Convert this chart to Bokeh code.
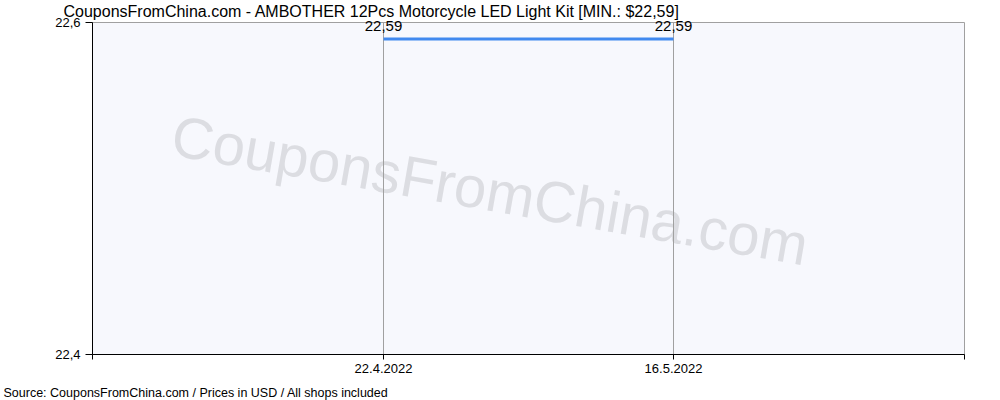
import pandas as pd
from bokeh.plotting import figure
from bokeh.models import Label, FixedTicker, ColumnDataSource, Range1d, Title, DatetimeAxis
from bokeh.embed import file_html
from bokeh.resources import INLINE

# ---- data ----
dates = ["2022-04-22", "2022-05-16"]
prices = [22.59, 22.59]
price_labels = ["22,59", "22,59"]
y_ticks = [22.4, 22.6]
y_tick_labels = ["22,4", "22,6"]
x_tick_dates = ["2022-04-22", "2022-05-16"]
x_tick_labels = ["22.4.2022", "16.5.2022"]
x_window = ["2022-03-28 22:00", "2022-06-09 02:00"]
title_text = "CouponsFromChina.com - AMBOTHER 12Pcs Motorcycle LED Light Kit [MIN.: $22,59]"
footer_text = "Source: CouponsFromChina.com / Prices in USD / All shops included"
watermark_text = "CouponsFromChina.com"


def ms(s):
    return pd.Timestamp(s).value / 1e6


FONT = "Liberation Sans"

x0, x1 = ms(x_window[0]), ms(x_window[1])

p = figure(
    width=1000, height=400,
    x_axis_type="datetime",
    x_range=Range1d(x0, x1), y_range=Range1d(y_ticks[0], y_ticks[1]),
    output_backend="svg", toolbar_location=None, title=None,
    min_border_left=92, min_border_right=36, min_border_top=22, min_border_bottom=46,
)
p.background_fill_color = "#f7f8fd"
p.border_fill_color = "white"
p.outline_line_color = "#a0a0a0"

# x axis
xt = [x0] + [ms(d) for d in x_tick_dates] + [x1]
p.xaxis.ticker = FixedTicker(ticks=xt)
ov = {x0: "", x1: ""}
for d, l in zip(x_tick_dates, x_tick_labels):
    ov[ms(d)] = l
p.xaxis.major_label_overrides = ov
p.xaxis.major_tick_out = 5
p.xaxis.major_tick_in = 0
p.xaxis.minor_tick_out = 0
p.xaxis.minor_tick_in = 0
p.xaxis.major_label_standoff = 4
p.xaxis.axis_line_color = "black"
p.xaxis.major_tick_line_color = "black"
p.xaxis.major_label_text_font = FONT
p.xaxis.major_label_text_font_size = "13px"
p.xaxis.major_label_text_color = "black"

# y axis
p.yaxis.ticker = FixedTicker(ticks=y_ticks)
p.yaxis.major_label_overrides = {v: l for v, l in zip(y_ticks, y_tick_labels)}
p.yaxis.major_tick_out = 7
p.yaxis.major_tick_in = 0
p.yaxis.minor_tick_out = 0
p.yaxis.minor_tick_in = 0
p.yaxis.major_label_standoff = 5
p.yaxis.axis_line_color = "black"
p.yaxis.major_tick_line_color = "black"
p.yaxis.major_label_text_font = FONT
p.yaxis.major_label_text_font_size = "13px"
p.yaxis.major_label_text_color = "black"

p.xgrid.grid_line_color = "#a0a0a0"
p.ygrid.visible = False

# watermark
p.add_layout(Label(
    x=80, y=220, x_units="screen", y_units="screen", text=watermark_text,
    angle=-0.173, text_font=FONT, text_font_size="58px", text_color="#dcdde2",
    text_align="left", text_baseline="alphabetic", level="image",
))

# series
src = ColumnDataSource(dict(x=[ms(d) for d in dates], y=prices, label=price_labels))
p.line("x", "y", source=src, line_width=3, line_color="#4189ef")

# --- panels above the plot (nearest first) ---
p.add_layout(Title(text=" ", text_font_size="1px", standoff=0), "above")  # small gap
p.add_layout(Title(
    text=title_text, align="left", offset=-29, standoff=0,
    text_font=FONT, text_font_size="16px", text_font_style="normal", text_color="black",
), "above")
# value labels above the end points (axis with no line/ticks, so they are not clipped)
val_axis = DatetimeAxis(
    ticker=FixedTicker(ticks=[ms(d) for d in dates]),
    major_label_overrides={ms(d): l for d, l in zip(dates, price_labels)},
    axis_line_color=None, major_tick_line_color=None, minor_tick_line_color=None,
    major_tick_out=0, major_tick_in=0, minor_tick_out=0, minor_tick_in=0,
    major_label_standoff=-30,
    major_label_text_font=FONT, major_label_text_font_size="15px",
    major_label_text_color="black",
)
p.add_layout(val_axis, "above")

# --- panels below the plot (nearest first: x axis, gap, footer) ---
p.add_layout(Title(text=" ", text_font_size="6px", standoff=0), "below")
p.add_layout(Title(
    text=footer_text, align="left", offset=-89, standoff=0,
    text_font=FONT, text_font_size="12.5px", text_font_style="normal", text_color="black",
), "below")

open("out.html", "w").write(file_html(p, INLINE, title="chart"))
